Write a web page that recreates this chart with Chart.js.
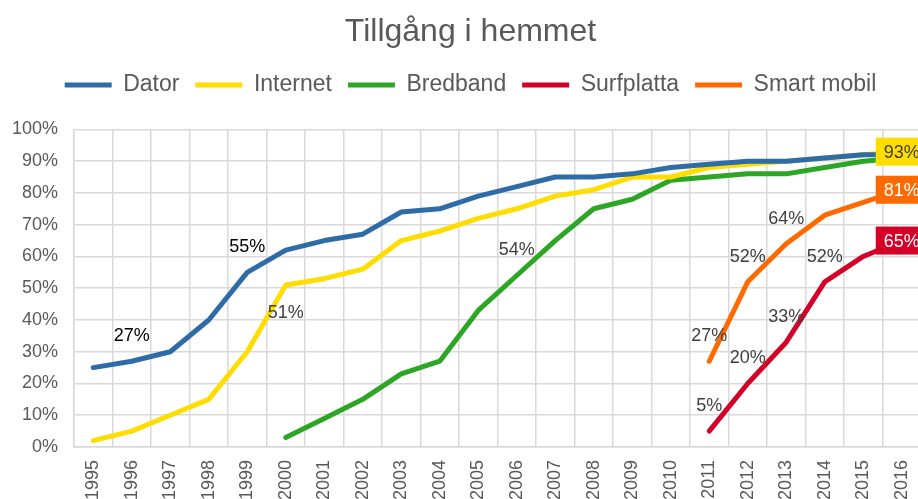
<!DOCTYPE html>
<html lang="sv">
<head>
<meta charset="utf-8">
<title>Tillgång i hemmet</title>
<script src="https://cdn.jsdelivr.net/npm/chart.js@4.4.1/dist/chart.umd.min.js"></script>
<style>
  html, body { margin: 0; padding: 0; overflow: hidden; background: #fff; }
  #wrap { width: 944px; height: 510px; }
</style>
</head>
<body>
<div id="wrap"><canvas id="chart" width="944" height="510"></canvas></div>
<script>
const years = ['1995', '1996', '1997', '1998', '1999', '2000', '2001', '2002', '2003', '2004', '2005',
               '2006', '2007', '2008', '2009', '2010', '2011', '2012', '2013', '2014', '2015', '2016'];

const dator      = [25, 27, 30, 40, 55, 62, 65, 67, 74, 75, 79, 82, 85, 85, 86, 88, 89, 90, 90, 91, 92, 92];
const internet   = [2, 5, 10, 15, 30, 51, 53, 56, 65, 68, 72, 75, 79, 81, 85, 85, 88, 89, 90, 91, 92, 93];
const bredband   = [null, null, null, null, null, 3, 9, 15, 23, 27, 43, 54, 65, 75, 78, 84, 85, 86, 86, 88, 90, 91];
const surfplatta = [null, null, null, null, null, null, null, null, null, null, null,
                    null, null, null, null, null, 5, 20, 33, 52, 60, 65];
const smartMobil = [null, null, null, null, null, null, null, null, null, null, null,
                    null, null, null, null, null, 27, 52, 64, 73, 77, 81];

const yTicks = [0, 10, 20, 30, 40, 50, 60, 70, 80, 90, 100];

// which points get a value label (index into years)
const datorLabels      = [1, 4];
const internetLabels   = [5];
const bredbandLabels   = [11];
const surfplattaLabels = [16, 17, 18, 19];
const smartMobilLabels = [16, 17, 18];
const boxedSeries      = [1, 3, 4];   // last value shown in a coloured box

const FONT = '"Liberation Sans", Arial, Helvetica, sans-serif';
Chart.defaults.font.family = FONT;

const series = [
  { label: 'Dator',       data: dator,      color: '#2e6ca8', labels: datorLabels,      below: false, text: '#000000' },
  { label: 'Internet',    data: internet,   color: '#ffdd00', labels: internetLabels,   below: true,  text: '#404040', boxText: '#404040' },
  { label: 'Bredband',    data: bredband,   color: '#2ca624', labels: bredbandLabels,   below: false, text: '#404040' },
  { label: 'Surfplatta',  data: surfplatta, color: '#d40028', labels: surfplattaLabels, below: false, text: '#404040', boxText: '#ffffff' },
  { label: 'Smart mobil', data: smartMobil, color: '#ff6a00', labels: smartMobilLabels, below: false, text: '#404040', boxText: '#ffffff' }
];

// extra room under the legend row, and title/legend centred on the full (uncropped) width
const headerTweaks = {
  id: 'headerTweaks',
  beforeInit(chart) {
    const fit = chart.legend.fit;
    chart.legend.fit = function () {
      fit.call(this);
      this.height += 23;
    };
  },
  afterLayout(chart) {
    [chart.titleBlock, chart.legend].forEach(box => {
      box.left  += 10;
      box.right += 10;
    });
  }
};

const valueLabels = {
  id: 'valueLabels',
  afterDatasetsDraw(chart) {
    const ctx = chart.ctx;
    ctx.save();
    ctx.font = `18px ${FONT}`;
    ctx.textAlign = 'center';
    ctx.textBaseline = 'middle';

    series.forEach((s, di) => {
      const meta = chart.getDatasetMeta(di);
      s.labels.forEach(i => {
        const pt = meta.data[i];
        ctx.fillStyle = s.text;
        ctx.fillText(`${s.data[i]}%`, pt.x, s.below ? pt.y + 28 : pt.y - 25);
      });
    });

    boxedSeries.forEach(di => {
      const s    = series[di];
      const meta = chart.getDatasetMeta(di);
      const last = s.data.length - 1;
      const pt   = meta.data[last];
      ctx.fillStyle = s.color;
      ctx.fillRect(pt.x - 26, pt.y - 14, 52, 28);
      ctx.fillStyle = s.boxText;
      ctx.fillText(`${s.data[last]}%`, pt.x, pt.y + 1);
    });
    ctx.restore();
  }
};

new Chart(document.getElementById('chart'), {
  type: 'line',
  data: {
    labels: years,
    datasets: series.map(s => ({
      label: s.label,
      data: s.data,
      borderColor: s.color,
      backgroundColor: s.color,
      borderWidth: 5,
      borderCapStyle: 'round',
      borderJoinStyle: 'round',
      pointRadius: 0,
      pointHoverRadius: 0,
      tension: 0
    }))
  },
  options: {
    responsive: false,
    animation: false,
    layout: { padding: { top: 0, right: 23, left: 0, bottom: 0 } },
    plugins: {
      title: {
        display: true,
        text: 'Tillgång i hemmet',
        color: '#595959',
        font: { size: 32, weight: 'normal' },
        padding: { top: 13, bottom: 6 }
      },
      legend: {
        labels: {
          color: '#595959',
          font: { size: 23 },
          boxWidth: 47,
          boxHeight: 5,
          padding: 16,
          generateLabels: chart =>
            Chart.defaults.plugins.legend.labels.generateLabels(chart).map(l => ({ ...l, lineWidth: 0 }))
        }
      },
      tooltip: { enabled: false }
    },
    scales: {
      x: {
        offset: true,
        grid: { color: '#d9d9d9', lineWidth: 1.5, offset: true, drawTicks: false },
        border: { color: '#d9d9d9', width: 1.5 },
        ticks: {
          color: '#595959', font: { size: 18 },
          minRotation: 90, maxRotation: 90, autoSkip: false, padding: 13
        },
        afterFit: scale => { scale.height = 63; }
      },
      y: {
        min: 0, max: 100,
        grid: { color: '#d9d9d9', lineWidth: 1.5, drawTicks: false },
        border: { color: '#d9d9d9', width: 1.5 },
        afterBuildTicks: scale => { scale.ticks = yTicks.map(v => ({ value: v })); },
        ticks: {
          color: '#595959', font: { size: 18 }, padding: 16,
          callback: v => `${v}%`
        },
        afterFit: scale => { scale.width = 74; }
      }
    }
  },
  plugins: [headerTweaks, valueLabels]
});
</script>
</body>
</html>
